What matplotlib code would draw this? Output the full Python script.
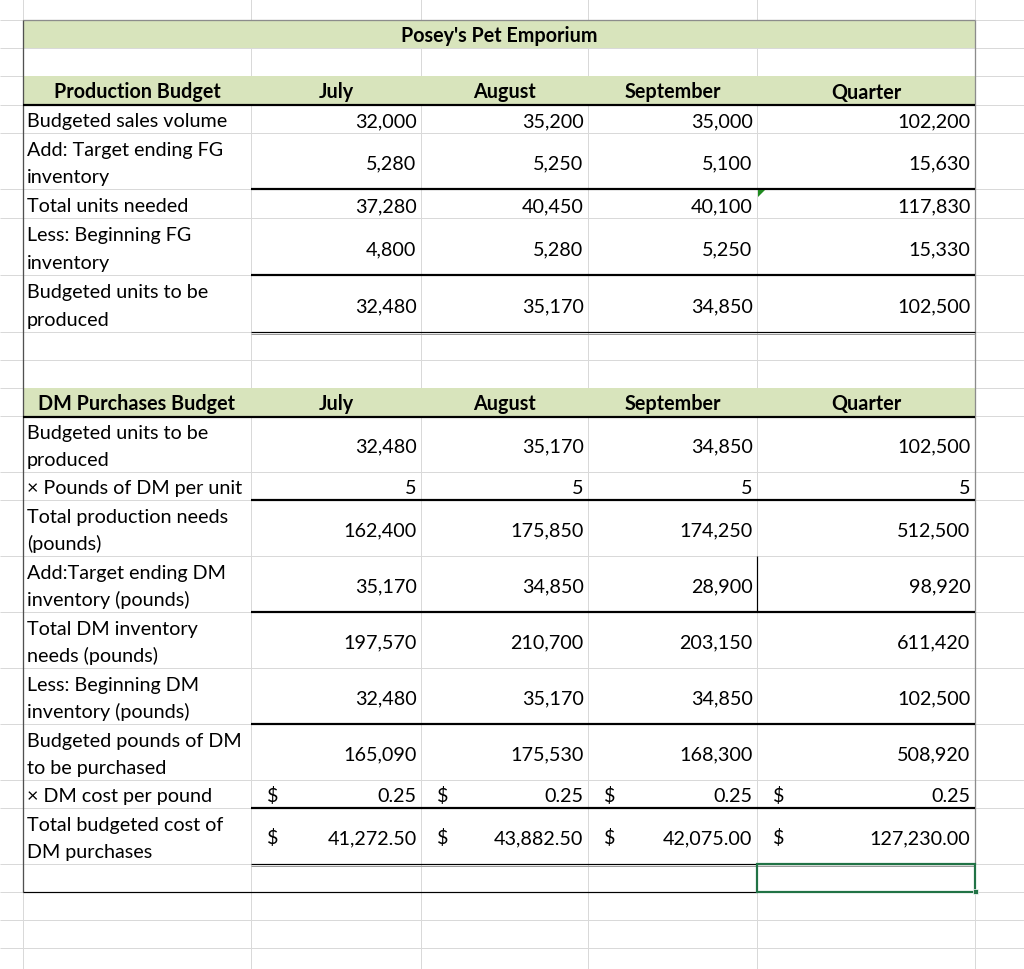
import matplotlib
matplotlib.use('Agg')
import matplotlib.pyplot as plt
from matplotlib.patches import Rectangle, Polygon

plt.rcParams['font.family'] = ['Lato', 'DejaVu Sans']

# ---- data ----
title = "Posey's Pet Emporium"
months = ["July", "August", "September", "Quarter"]

prod_header = "Production Budget"
prod_labels = ["Budgeted sales volume",
               "Add: Target ending FG\ninventory",
               "Total units needed",
               "Less: Beginning FG\ninventory",
               "Budgeted units to be\nproduced"]
sales_volume = [32000, 35200, 35000, 102200]
target_end_fg = [5280, 5250, 5100, 15630]
total_units = [37280, 40450, 40100, 117830]
begin_fg = [4800, 5280, 5250, 15330]
units_produced = [32480, 35170, 34850, 102500]
prod_values = [sales_volume, target_end_fg, total_units, begin_fg, units_produced]

dm_header = "DM Purchases Budget"
dm_labels = ["Budgeted units to be\nproduced",
             "\u00d7 Pounds of DM per unit",
             "Total production needs\n(pounds)",
             "Add:Target ending DM\ninventory (pounds)",
             "Total DM inventory\nneeds (pounds)",
             "Less: Beginning DM\ninventory (pounds)",
             "Budgeted pounds of DM\nto be purchased",
             "\u00d7 DM cost per pound",
             "Total budgeted cost of\nDM purchases"]
dm_units = [32480, 35170, 34850, 102500]
lbs_per_unit = [5, 5, 5, 5]
production_needs = [162400, 175850, 174250, 512500]
target_end_dm = [35170, 34850, 28900, 98920]
total_dm_needs = [197570, 210700, 203150, 611420]
begin_dm = [32480, 35170, 34850, 102500]
lbs_purchased = [165090, 175530, 168300, 508920]
cost_per_lb = [0.25, 0.25, 0.25, 0.25]
total_cost = [41272.50, 43882.50, 42075.00, 127230.00]
dm_values = [dm_units, lbs_per_unit, production_needs, target_end_dm,
             total_dm_needs, begin_dm, lbs_purchased, cost_per_lb, total_cost]
dm_money = [False, False, False, False, False, False, False, True, True]

# ---- sheet layout (pixels) ----
row_edges = [21, 49, 77, 106, 134, 190, 219, 276, 333, 361, 389, 417, 473,
             501, 557, 613, 669, 725, 781, 809, 865, 893, 921, 949]
col_edges = [23, 251, 421, 588, 757, 975]
prod_rows = [(106, 134), (134, 190), (190, 219), (219, 276), (276, 333)]
dm_rows = [(417, 473), (473, 501), (501, 557), (557, 613), (613, 669),
           (669, 725), (725, 781), (781, 809), (809, 865)]

grid = '#d9d9d9'
fill = '#d8e4bc'
px = 0.72          # points per pixel at 100 dpi
fs = 14.2
line_h = 27.5

fig = plt.figure(figsize=(10.24, 9.7), dpi=100)
ax = fig.add_axes([0, 0, 1, 1])
ax.set_xlim(0, 1024)
ax.set_ylim(970, 0)
ax.axis('off')

# gridlines
ax.hlines(row_edges, 0, 1024, color=grid, lw=px, zorder=1)
ax.vlines(col_edges, 0, 970, color=grid, lw=px, zorder=1)

# green fills
for top, bot in [(21, 49), (77, 106), (389, 417)]:
    ax.add_patch(Rectangle((col_edges[0], top), col_edges[-1] - col_edges[0], bot - top,
                           facecolor=fill, edgecolor='none', zorder=2))

# borders
ax.hlines(21, 23, 975, color='#8c8c8c', lw=1.3 * px, zorder=4)
ax.vlines(23, 21, 893, color='#505050', lw=1.3 * px, zorder=4)
ax.vlines(975, 21, 865, color='#8c8c8c', lw=1.3 * px, zorder=4)
ax.hlines([106, 418], 23, 975, color='black', lw=2.2 * px, zorder=4)
ax.hlines([190, 276, 501, 613, 725, 809], 251, 975, color='black', lw=2.2 * px, zorder=4)
ax.hlines([332.5, 864.5], 251, 975, color='black', lw=1.2 * px, zorder=4)
ax.hlines([334.5, 866.5], 251, 975, color='#9a9a9a', lw=1.0 * px, zorder=4)
ax.hlines(893, 23, 757, color='black', lw=1.2 * px, zorder=4)
ax.vlines(757, 557, 613, color='black', lw=1.2 * px, zorder=4)

# selected cell and error marker
ax.add_patch(Rectangle((757, 865), 975 - 757, 893 - 865, facecolor='none',
                       edgecolor='#217346', lw=2.2 * px, zorder=5))
ax.add_patch(Rectangle((973, 890), 5, 5, facecolor='#217346', edgecolor='white',
                       lw=0.7 * px, zorder=6))
ax.add_patch(Polygon([(758, 191), (765, 191), (758, 198)], closed=True,
                     facecolor='#1f8a1f', edgecolor='none', zorder=6))


def cell_text(x, top, bot, s, ha='left', bold=False):
    lines = s.split('\n')
    mid = (top + bot) / 2
    for i, ln in enumerate(lines):
        yb = mid + 7.5 + (i - (len(lines) - 1) / 2) * line_h
        ax.text(x, yb, ln, ha=ha, va='baseline', fontsize=fs,
                fontweight='bold' if bold else 'normal', color='black', zorder=7)


def fmt(v, money):
    if money:
        return f"{v:,.2f}"
    return f"{v:,.0f}"


# title
cell_text((col_edges[0] + col_edges[-1]) / 2, 21, 49, title, ha='center', bold=True)

# section headers
for header, (top, bot) in [(prod_header, (77, 105)), (dm_header, (389, 417))]:
    cell_text((col_edges[0] + col_edges[1]) / 2, top, bot, header, ha='center', bold=True)
    for j, m in enumerate(months):
        cell_text((col_edges[j + 1] + col_edges[j + 2]) / 2, top, bot, m, ha='center', bold=True)

# production budget body
for label, vals, (top, bot) in zip(prod_labels, prod_values, prod_rows):
    cell_text(col_edges[0] + 4, top, bot, label)
    for j, v in enumerate(vals):
        cell_text(col_edges[j + 2] - 4.5, top, bot, fmt(v, False), ha='right')

# DM purchases budget body
for label, vals, money, (top, bot) in zip(dm_labels, dm_values, dm_money, dm_rows):
    cell_text(col_edges[0] + 4, top, bot, label)
    for j, v in enumerate(vals):
        cell_text(col_edges[j + 2] - 4.5, top, bot, fmt(v, money), ha='right')
        if money:
            cell_text(col_edges[j + 1] + 16, top, bot, '$')

fig.savefig('out.png', dpi=100)
